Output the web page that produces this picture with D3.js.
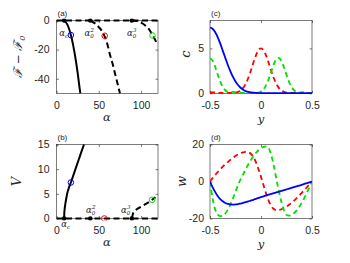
<!DOCTYPE html>
<html>
<head>
<meta charset="utf-8">
<script src="https://cdn.jsdelivr.net/npm/d3@7"></script>
<style>
body{margin:0;background:#fff}
text{font-family:"Liberation Sans",Arial,sans-serif;fill:#262626}
</style>
</head>
<body>
<div id="chart"></div>
<script>
// ---- data ----
var alphaTicks = [0, 50, 100]
var freeTicks = [-40, -20, 0]
var speedTicks = [0, 5, 10, 15]
var yTicks = [-0.5, 0, 0.5]
var cTicks = [0, 5]
var wTicks = [-20, 0, 20]

// bifurcation points alpha_c, alpha_0^2, alpha_0^3
var bifAlpha = [9, 40, 89]

// panel (a): F - F0 against alpha
var freeBranch1 = [[9,0],[11,-1.2],[13,-3],[15,-6],[17,-10],[19,-15],[21,-21],[23,-28],[25,-36],[27,-45],[28.2,-50]]
var freeBranch2 = [[40,0],[45,-1.8],[50,-4.5],[54,-7.5],[57,-11],[60,-16],[63,-23],[66,-29],[69,-36],[72,-43],[75,-50]]
var freeBranch3 = [[89,0],[95,-0.3],[100,-1.5],[105,-3.5],[110,-6.5],[113.5,-10],[116,-12.5],[118.5,-15.5]]
var freeMarks = [[17,-10,'#0000ff'],[57,-10.5,'#ff0000'],[113.5,-10.3,'#00e000']]

// panel (b): V against alpha
var speedBranch1 = [[9,0],[9.2,1],[9.7,2],[10.5,3],[11.7,4.2],[13.3,5.5],[15,6.4],[17,7.3],[20,8.8],[23,10.3],[26,11.8],[29,13.3],[32.5,15]]
var speedBranch3 = [[89,0],[89.7,0.5],[90.5,1],[92.5,1.5],[96,2],[100,2.4],[105,2.9],[110,3.4],[113,3.8],[117,4.3]]
var speedMarks = [[17,7.3,'#0000ff'],[56.5,0,'#ff0000'],[113,3.8,'#00e000']]

// panels (c), (d): profiles against y
var yGrid = [-0.5,-0.475,-0.45,-0.425,-0.4,-0.375,-0.35,-0.325,-0.3,-0.275,-0.25,-0.225,-0.2,-0.175,-0.15,-0.125,-0.1,-0.075,-0.05,-0.025,0,
  0.025,0.05,0.075,0.1,0.125,0.15,0.175,0.2,0.225,0.25,0.275,0.3,0.325,0.35,0.375,0.4,0.425,0.45,0.475,0.5]
var cBlue = [7.3,7.18,6.82,6.26,5.55,4.75,3.94,3.15,2.44,1.82,1.31,0.92,0.62,0.40,0.25,0.15,0.09,0.06,0.04,0.03,0.03,
  0.03,0.03,0.03,0.03,0.03,0.03,0.03,0.03,0.03,0.03,0.03,0.03,0.03,0.03,0.03,0.03,0.03,0.03,0.03,0.03]
var cRed = [0.1,0.1,0.08,0.06,0.05,0.04,0.04,0.04,0.04,0.05,0.07,0.15,0.31,0.6,1.05,1.7,2.5,3.39,4.2,4.79,5.0,
  4.79,4.2,3.39,2.5,1.7,1.05,0.6,0.31,0.15,0.07,0.05,0.04,0.04,0.04,0.04,0.04,0.04,0.04,0.04,0.04]
var cGreen = [3.9,3.65,2.98,2.12,1.32,0.72,0.34,0.15,0.12,0.15,0.1,0.05,0.04,0.04,0.04,0.04,0.04,0.04,0.05,0.08,0.21,
  0.46,0.91,1.57,2.4,3.21,3.79,3.94,3.6,2.9,2.05,1.28,0.7,0.34,0.14,0.08,0.12,0.1,0.05,0.04,0.04]
var wBlue = [0,-3,-5.6,-7.8,-9.5,-10.7,-11.6,-12.1,-12.4,-12.5,-12.4,-12.2,-11.9,-11.6,-11.2,-10.8,-10.3,-9.9,-9.4,-8.9,-8.4,
  -8.0,-7.5,-7.1,-6.7,-6.3,-5.9,-5.5,-5.1,-4.7,-4.3,-3.8,-3.4,-3.0,-2.6,-2.2,-1.8,-1.3,-0.9,-0.45,0]
var wRed = [0,1.8,3.5,5.1,6.6,8.0,9.3,10.5,11.7,12.8,13.8,14.6,15.3,15.8,16.0,15.8,15.0,13.3,10.5,6.7,2.5,
  -2.0,-6.5,-10.3,-13.2,-14.9,-15.5,-15.4,-15.0,-14.4,-13.6,-12.6,-11.5,-10.3,-9.0,-7.6,-6.1,-4.6,-3.1,-1.5,0]
var wGreen = [0,-9,-15,-17.8,-18.7,-18.5,-17.3,-15.3,-12.5,-9.2,-5.5,-1.8,1.1,3.9,6.6,9.2,11.5,13.6,15.4,16.9,18.0,
  18.7,19.0,18.1,14.4,8.6,1.5,-5.2,-11.1,-15.6,-18.1,-18.4,-18.0,-17.0,-15.6,-13.7,-11.5,-8.9,-6.1,-3.1,0]

var svg = d3.select('#chart').append('svg').attr('width', 350).attr('height', 263)
var clipId = 0

function makePanel(o){
    var g = svg.append('g')
    var x = d3.scaleLinear().domain(o.xd).range([o.l, o.r])
    var y = d3.scaleLinear().domain(o.yd).range([o.b, o.t])
    clipId++
    svg.append('clipPath').attr('id', 'clip' + clipId).append('rect')
        .attr('x', o.l).attr('y', o.t - 2).attr('width', o.r - o.l).attr('height', o.b - o.t + 4)
    var fmt = function(d){ return String(d) }
    var ts = -2.5
    g.append('g').attr('transform', 'translate(0,' + o.b + ')')
        .call(d3.axisBottom(x).tickValues(o.xt).tickSize(ts).tickPadding(8).tickFormat(fmt))
    g.append('g').attr('transform', 'translate(0,' + o.t + ')')
        .call(d3.axisTop(x).tickValues(o.xt).tickSize(ts).tickFormat(''))
    g.append('g').attr('transform', 'translate(' + o.l + ',0)')
        .call(d3.axisLeft(y).tickValues(o.yt).tickSize(ts).tickPadding(o.pad).tickFormat(fmt))
    g.append('g').attr('transform', 'translate(' + o.r + ',0)')
        .call(d3.axisRight(y).tickValues(o.yt).tickSize(ts).tickFormat(''))
    g.selectAll('.domain').remove()
    g.selectAll('.tick line').attr('stroke', '#262626').attr('stroke-width', 0.6)
    g.selectAll('.tick text').style('font-size', '10.5px').attr('fill', '#262626')
    g.append('rect').attr('x', o.l).attr('y', o.t).attr('width', o.r - o.l).attr('height', o.b - o.t)
        .attr('fill', 'none').attr('stroke', '#262626').attr('stroke-width', 0.6)
    var plot = g.append('g').attr('clip-path', 'url(#clip' + clipId + ')')
    g.append('text').attr('x', o.l + 1).attr('y', o.t - 4.5).style('font-size', '8px').text(o.tag)
    return {g: g, plot: plot, x: x, y: y}
}

function drawLine(p, pts, color, width, dash){
    var line = d3.line().x(function(d){ return p.x(d[0]) }).y(function(d){ return p.y(d[1]) })
        .curve(d3.curveMonotoneX)
    p.plot.append('path').datum(pts).attr('d', line).attr('fill', 'none')
        .attr('stroke', color).attr('stroke-width', width)
        .attr('stroke-dasharray', dash ? dash : null)
}

function alphaLabel(g, cx, base, sub, sup){
    var t = g.append('text').attr('x', cx).attr('y', base).attr('text-anchor', 'middle')
        .style('font-family', '"DejaVu Serif",serif').style('font-style', 'italic').style('font-size', '8.5px')
    t.append('tspan').text('α')
    t.append('tspan').style('font-size', '5.5px').attr('dy', 2).text(sub)
    if (sup){
        t.append('tspan').style('font-size', '5.5px').attr('dx', -3.3).attr('dy', -6).text(sup)
    }
}

function dots(p, yv){
    p.plot.selectAll('circle.bif').data(bifAlpha).enter().append('circle')
        .attr('cx', function(d){ return p.x(d) }).attr('cy', p.y(yv)).attr('r', 2.3).attr('fill', '#000')
}

function rings(p, marks){
    p.plot.selectAll('circle.mark').data(marks).enter().append('circle')
        .attr('cx', function(d){ return p.x(d[0]) }).attr('cy', function(d){ return p.y(d[1]) })
        .attr('r', 2.8).attr('fill', 'none').attr('stroke', function(d){ return d[2] }).attr('stroke-width', 1)
}

function yLabel(x, y, size){
    return svg.append('text').attr('transform', 'translate(' + x + ',' + y + ') rotate(-90)')
        .attr('text-anchor', 'middle').style('font-size', size)
        .style('font-family', '"DejaVu Serif",serif').style('font-style', 'italic')
}

function xLabel(g, x, y, txt){
    g.append('text').attr('x', x).attr('y', y).attr('text-anchor', 'middle')
        .style('font-family', '"DejaVu Serif",serif').style('font-style', 'italic').style('font-size', '11.5px').text(txt)
}

var dashK = '6,3.5'
var dashC = '5,3.5'

// ---- (a) ----
var pa = makePanel({l: 56.5, r: 158, t: 20.5, b: 93.3, xd: [0, 120], yd: [-50, 0], xt: alphaTicks, yt: freeTicks, pad: 7, tag: '(a)'})
drawLine(pa, [[0, 0], [120, 0]], '#000', 2.2, dashK)
drawLine(pa, freeBranch1, '#000', 2, null)
drawLine(pa, freeBranch2, '#000', 2, dashK)
drawLine(pa, freeBranch3, '#000', 2, dashK)
dots(pa, 0)
rings(pa, freeMarks)
alphaLabel(pa.g, pa.x(bifAlpha[0]) - 0.5, 36, 'c')
alphaLabel(pa.g, pa.x(bifAlpha[1]) - 1, 36, '0', '2')
alphaLabel(pa.g, pa.x(bifAlpha[2]), 36, '0', '3')
xLabel(pa.g, 107, 120.5, 'α')
var fl = yLabel(22, 57, '12px')
fl.append('tspan').text('ℱ − ℱ')
fl.append('tspan').style('font-size', '8px').attr('dy', 3).text('0')

// ---- (b) ----
var pb = makePanel({l: 56.5, r: 158, t: 144.5, b: 218.5, xd: [0, 120], yd: [0, 15], xt: alphaTicks, yt: speedTicks, pad: 7, tag: '(b)'})
drawLine(pb, [[0, 0], [120, 0]], '#000', 2.2, dashK)
drawLine(pb, speedBranch1, '#000', 2, null)
drawLine(pb, speedBranch3, '#000', 2, dashK)
dots(pb, 0)
rings(pb, speedMarks)
alphaLabel(pb.g, pb.x(bifAlpha[0]) + 1.5, 227, 'c')
alphaLabel(pb.g, pb.x(bifAlpha[1]) + 0.5, 213, '0', '2')
alphaLabel(pb.g, pb.x(bifAlpha[2]) - 6, 213, '0', '3')
xLabel(pb.g, 107, 245.5, 'α')
yLabel(21, 181.5, '13px').text('V')

// ---- (c) ----
function profile(vals){ return yGrid.map(function(v, i){ return [v, vals[i]] }) }
var pc = makePanel({l: 210, r: 312, t: 20.5, b: 93.3, xd: [-0.5, 0.5], yd: [0, 8.1], xt: yTicks, yt: cTicks, pad: 6, tag: '(c)'})
drawLine(pc, profile(cRed), '#ff0000', 1.8, dashC)
drawLine(pc, profile(cGreen), '#00e000', 1.8, dashC)
drawLine(pc, profile(cBlue), '#0000ff', 1.8, null)
xLabel(pc.g, 261, 122.5, 'y')
yLabel(190, 54, '13px').text('c')

// ---- (d) ----
var pd = makePanel({l: 210, r: 312, t: 144.5, b: 218.5, xd: [-0.5, 0.5], yd: [-20, 20], xt: yTicks, yt: wTicks, pad: 6, tag: '(d)'})
drawLine(pd, profile(wRed), '#ff0000', 1.8, dashC)
drawLine(pd, profile(wGreen), '#00e000', 1.8, dashC)
drawLine(pd, profile(wBlue), '#0000ff', 1.8, null)
xLabel(pd.g, 261, 247.5, 'y')
yLabel(186, 181.5, '13px').text('w')
</script>
</body>
</html>
